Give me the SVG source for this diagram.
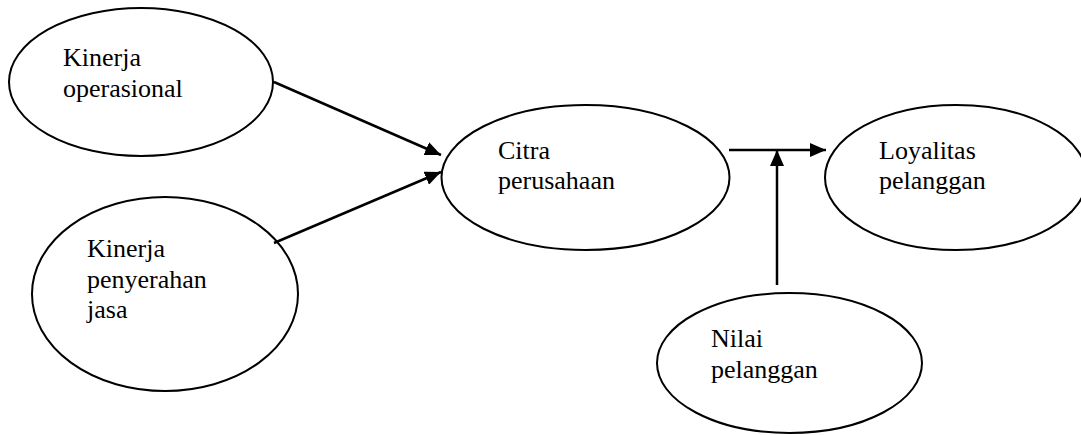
<svg xmlns="http://www.w3.org/2000/svg" width="1081" height="435" viewBox="0 0 1081 435">
<style>
.node ellipse{fill:#fff;stroke:#000;stroke-width:2}
.node text{font-family:'Liberation Serif','Times New Roman',Tinos,'DejaVu Serif',serif;font-size:26px;fill:#000}
.conn line{stroke:#000;stroke-width:2.5;marker-end:url(#ah)}
</style>
<defs>
<marker id="ah" markerUnits="userSpaceOnUse" markerWidth="17" markerHeight="14" refX="16" refY="7" orient="auto">
<path d="M0,0 L16,7 L0,14 z" fill="#000"/>
</marker>
</defs>
<rect width="1081" height="435" fill="#fff"/>
<g id="n1" class="node">
<ellipse cx="141" cy="82" rx="132" ry="74"/>
<text x="63" y="66">Kinerja</text>
<text x="63" y="97">operasional</text>
</g>
<g id="n2" class="node">
<ellipse cx="165" cy="294" rx="133" ry="97"/>
<text x="87" y="257">Kinerja</text>
<text x="87" y="288">penyerahan</text>
<text x="87" y="318">jasa</text>
</g>
<g id="n3" class="node">
<ellipse cx="585.5" cy="177.5" rx="144" ry="72.5"/>
<text x="498" y="159">Citra</text>
<text x="498" y="189">perusahaan</text>
</g>
<g id="n4" class="node">
<ellipse cx="956" cy="177.5" rx="131" ry="72.5"/>
<text x="879" y="159">Loyalitas</text>
<text x="879" y="189">pelanggan</text>
</g>
<g id="n5" class="node">
<ellipse cx="789.5" cy="363" rx="132.5" ry="70"/>
<text x="711" y="347">Nilai</text>
<text x="711" y="378">pelanggan</text>
</g>
<g id="connectors" class="conn">
<line x1="274" y1="82" x2="441" y2="155"/>
<line x1="274" y1="243" x2="441" y2="172"/>
<line x1="729" y1="150" x2="826" y2="150"/>
<line x1="777" y1="285" x2="777" y2="150"/>
</g>
</svg>
